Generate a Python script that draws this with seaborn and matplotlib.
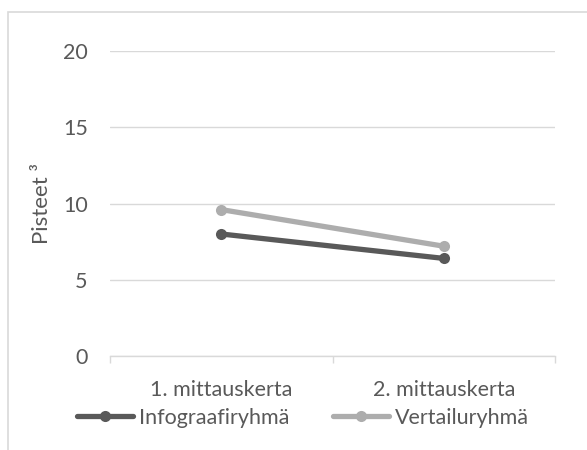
import matplotlib
matplotlib.use("Agg")
import matplotlib.pyplot as plt
from matplotlib.patches import Rectangle
import seaborn as sns
import pandas as pd

# Data
kerrat = ["1. mittauskerta", "2. mittauskerta"]
infograafiryhma = [8.0, 6.4]
vertailuryhma = [9.6, 7.2]
ryhmat = ["Infograafiryhmä", "Vertailuryhmä"]
y_ticks = [0, 5, 10, 15, 20]

df = pd.DataFrame({
    "kerta": kerrat * 2,
    "pisteet": infograafiryhma + vertailuryhma,
    "ryhmä": [ryhmat[0]] * 2 + [ryhmat[1]] * 2,
})

sns.set_theme(style="white")
plt.rcParams["font.family"] = ["Lato", "DejaVu Sans"]

text_col = "#595959"
grid_col = "#D9D9D9"
palette = {ryhmat[0]: "#595959", ryhmat[1]: "#ADADAD"}
fs = 15.5

fig = plt.figure(figsize=(5.87, 4.5), dpi=100)
ax = fig.add_axes([110 / 587, 1 - 356 / 450, 445 / 587, 305 / 450])

sns.lineplot(data=df, x="kerta", y="pisteet", hue="ryhmä", palette=palette,
             marker="o", markersize=8, markeredgewidth=0, linewidth=3.8,
             sort=False, ax=ax, legend=True)

ax.set_ylim(0, 20)
ax.set_xlim(-0.5, 1.5)
ax.set_yticks(y_ticks)
ax.set_yticklabels([str(v) for v in y_ticks])
ax.yaxis.grid(True, color=grid_col, linewidth=1)
ax.set_axisbelow(True)
ax.tick_params(axis="y", length=0, pad=16, labelsize=fs, labelcolor=text_col)
ax.set_xticks([0, 1])
ax.set_xticklabels(kerrat)
ax.set_xticks([-0.5, 0.5, 1.5], minor=True)
ax.tick_params(axis="x", which="major", length=0, pad=17, labelsize=fs, labelcolor=text_col)
ax.tick_params(axis="x", which="minor", length=5, width=1, color=grid_col, bottom=True)
for side in ["top", "right", "left"]:
    ax.spines[side].set_visible(False)
ax.spines["bottom"].set_color(grid_col)
ax.spines["bottom"].set_linewidth(1)

ax.set_xlabel("")
ax.set_ylabel("Pisteet ³", fontsize=16, color=text_col, labelpad=8)

handles, labels = ax.get_legend_handles_labels()
ax.legend(handles, labels, loc="center", bbox_to_anchor=(303 / 587, 1 - 418 / 450),
          bbox_transform=fig.transFigure, ncol=2, frameon=False,
          fontsize=fs, labelcolor=text_col, handlelength=2.6, handletextpad=0.3,
          columnspacing=2.0, borderaxespad=0)

# Chart area outline
fig.patches.append(Rectangle((8 / 587, -0.1), 1.2, 1 - 12 / 450 + 0.1,
                             transform=fig.transFigure, fill=False,
                             edgecolor=grid_col, linewidth=1.2))

fig.savefig("out.png", dpi=100, facecolor="white")
